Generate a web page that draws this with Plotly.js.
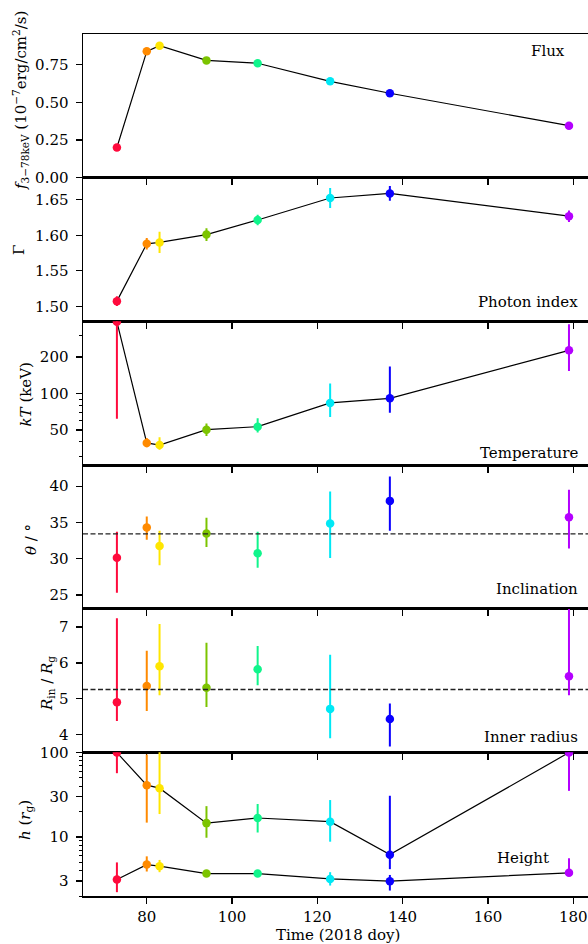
<!DOCTYPE html>
<html><head><meta charset="utf-8">
<script src="https://cdn.plot.ly/plotly-3.0.1.min.js"></script>
<style>html,body{margin:0;padding:0;background:#fff}#plot{width:588px;height:944px}</style>
</head><body><div id="plot"></div>
<script>
// ---- data ----
const day = [73, 80, 83, 94, 106, 123, 137, 179];
const colors = ['#ff0a3c', '#ff8a00', '#ffe600', '#7cc400', '#10f58c', '#00e8f5', '#0a00ff', '#b400ff'];

const flux = [0.200, 0.838, 0.875, 0.778, 0.759, 0.639, 0.560, 0.345];

const gamma = [1.5074, 1.588, 1.590, 1.601, 1.6215, 1.6524, 1.6589, 1.6268];
const gammaErr = [0.007, 0.008, 0.015, 0.009, 0.0075, 0.014, 0.0105, 0.008];

const kT = [390, 39.1, 37.6, 50.3, 53.3, 83.6, 91.3, 227];
const kTLo = [62, 36, 34.4, 44.6, 47.6, 64, 69.5, 153.5];
const kTHi = [1000, 43, 43.6, 56.6, 62.4, 121, 166.8, 372];

const incl = [30.14, 34.31, 31.76, 33.47, 30.75, 34.86, 37.97, 35.7];
const inclLo = [25.3, 32.6, 29.1, 31.6, 28.75, 30.1, 33.85, 31.4];
const inclHi = [33.7, 35.83, 33.85, 35.65, 33.7, 39.26, 41.35, 39.5];
const inclMean = 33.43;

const rin = [4.906, 5.36, 5.91, 5.31, 5.82, 4.72, 4.44, 5.63];
const rinLo = [4.38, 4.66, 5.10, 4.77, 5.38, 3.90, 3.67, 5.10];
const rinHi = [7.24, 6.34, 7.08, 6.56, 6.47, 6.23, 4.87, 9.0];
const rinMean = 5.26;

const hUp = [100, 41.1, 37.9, 14.6, 16.8, 15.2, 6.18, 100];
const hUpLo = [57, 14.8, 18.7, 9.8, 11.3, 8.8, 4.16, 35.2];
const hUpHi = [100, 95, 150, 23.2, 24.6, 27.4, 30.8, 100];

const hLow = [3.13, 4.71, 4.51, 3.69, 3.69, 3.19, 3.00, 3.76];
const hLowLo = [2.22, 3.90, 3.83, 3.60, 3.60, 2.66, 2.32, 3.70];
const hLowHi = [5.00, 5.90, 5.35, 3.80, 3.80, 3.83, 3.55, 5.60];

const xTicks = [80, 100, 120, 140, 160, 180];
const panelLabels = ['Flux', 'Photon index', 'Temperature', 'Inclination', 'Inner radius', 'Height'];

// ---- layout geometry ----
const W = 588, H = 944, L = 83, R = 0, T = 34, B = 48;
const FONT = "'DejaVu Serif', 'Liberation Serif', serif";
const px2x = p => (p - L) / (W - L - R);
const px2y = p => (H - B - p) / (H - T - B);

const traces = [];
function line(ax, y) {
  traces.push({x: day, y: y, xaxis: 'x' + ax, yaxis: 'y' + ax, mode: 'lines',
    line: {color: '#000', width: 1.2}, hoverinfo: 'skip', showlegend: false});
}
function points(ax, y, lo, hi) {
  for (let i = 0; i < day.length; i++) {
    const t = {x: [day[i]], y: [y[i]], xaxis: 'x' + ax, yaxis: 'y' + ax, mode: 'markers',
      marker: {color: colors[i], size: 8.5}, showlegend: false};
    if (lo) {
      t.error_y = {type: 'data', symmetric: false, array: [hi[i] - y[i]], arrayminus: [y[i] - lo[i]],
        color: colors[i], thickness: 2, width: 0};
    }
    traces.push(t);
  }
}
line(1, flux); points(1, flux);
line(2, gamma);
points(2, gamma, gamma.map((v, i) => v - gammaErr[i]), gamma.map((v, i) => v + gammaErr[i]));
line(3, kT); points(3, kT, kTLo, kTHi);
points(4, incl, inclLo, inclHi);
points(5, rin, rinLo, rinHi);
line(6, hUp); line(6, hLow);
points(6, hUp, hUpLo, hUpHi); points(6, hLow, hLowLo, hLowHi);

const tickFont = {family: FONT, size: 15, color: '#000'};
const layout = {
  width: W, height: H, margin: {l: L, r: R, t: T, b: B},
  paper_bgcolor: '#fff', plot_bgcolor: '#fff', showlegend: false,
  font: {family: FONT, size: 15, color: '#000'},
  shapes: [
    {type: 'line', xref: 'x4 domain', x0: 0, x1: 1, yref: 'y4', y0: inclMean, y1: inclMean,
      line: {color: '#222', width: 1.3, dash: '5px,2.5px'}},
    {type: 'line', xref: 'x5 domain', x0: 0, x1: 1, yref: 'y5', y0: rinMean, y1: rinMean,
      line: {color: '#222', width: 1.3, dash: '5px,2.5px'}}
  ],
  annotations: []
};
const yRanges = [[0, 0.953], [1.479, 1.681], [1.4105, 2.595], [23.1, 42.92], [3.51, 7.51], [Math.log10(2), 2.003]];
const yTicks = [[0, 0.25, 0.5, 0.75], [1.50, 1.55, 1.60, 1.65], [50, 100, 200], [25, 30, 35, 40], [4, 5, 6, 7], [3, 10, 30, 100]];
const yFormats = ['.2f', '.2f', 'd', 'd', 'd', 'd'];
const yMinor = [null, null, [30, 40, 60, 70, 80, 90, 300],
  null, null, [2, 4, 5, 6, 7, 8, 9, 20, 40, 50, 60, 70, 80, 90]];
for (let i = 1; i <= 6; i++) {
  const xa = {anchor: 'y' + i, range: [65.05, 183.46], showline: true, mirror: true, linewidth: 1.5,
    linecolor: '#000', ticks: 'outside', ticklen: 6, tickwidth: 1.3, tickcolor: '#000',
    tickmode: 'array', tickvals: xTicks, showticklabels: i === 6, tickfont: tickFont,
    showgrid: false, zeroline: false};
  if (i > 1) xa.matches = 'x';
  layout['xaxis' + (i === 1 ? '' : i)] = xa;
  const d0 = (6 - i) / 6, d1 = (7 - i) / 6;
  const ya = {anchor: 'x' + i, domain: [d0, d1], range: yRanges[i - 1], showline: true, linewidth: 1.5,
    linecolor: '#000', ticks: 'outside', ticklen: 6, tickwidth: 1.3, tickcolor: '#000',
    tickmode: 'array', tickvals: yTicks[i - 1], tickformat: yFormats[i - 1], tickfont: tickFont,
    ticklabelstandoff: 4, showgrid: false, zeroline: false};
  if (i === 3 || i === 6) {
    ya.type = 'log';
    ya.minor = {tickmode: 'array', tickvals: yMinor[i - 1], ticks: 'outside', ticklen: 3,
      tickwidth: 1, tickcolor: '#000', showgrid: false};
  }
  layout['yaxis' + i] = ya;
}
// axis titles
const yTitles = [
  ['<i>f</i><sub>3−78keV</sub> (10<sup>−7</sup>erg/cm<sup>2</sup>/s)', 20, 101],
  ['Γ', 19, 250],
  ['<i>kT</i> (keV)', 25.5, 395],
  ['<i>θ</i> / °', 31, 540],
  ['<i>R</i><sub>in</sub> / <i>R</i><sub>g</sub>', 47, 684],
  ['<i>h</i> (<i>r</i><sub>g</sub>)', 25, 820]
];
yTitles.forEach(([txt, xp, yp]) => layout.annotations.push({
  text: txt, xref: 'paper', yref: 'paper', x: px2x(xp), y: px2y(yp), xanchor: 'center', yanchor: 'middle',
  textangle: -90, showarrow: false, font: {family: FONT, size: 15, color: '#000'}}));
layout.annotations.push({text: 'Time (2018 doy)', xref: 'paper', yref: 'paper', x: px2x(338), y: px2y(935),
  xanchor: 'center', yanchor: 'middle', showarrow: false, font: {family: FONT, size: 15, color: '#000'}});
// panel labels
const labelPos = [[567, 51], [580, 301.7], [580, 452.7], [580, 589.3], [580, 736.7], [551, 858]];
panelLabels.forEach((txt, i) => layout.annotations.push({
  text: txt, xref: 'paper', yref: 'paper', x: px2x(labelPos[i][0]), y: px2y(labelPos[i][1]),
  xanchor: 'right', yanchor: 'middle', showarrow: false, font: {family: FONT, size: 15, color: '#000'}}));

Plotly.newPlot('plot', traces, layout, {staticPlot: true, displayModeBar: false});
</script></body></html>
